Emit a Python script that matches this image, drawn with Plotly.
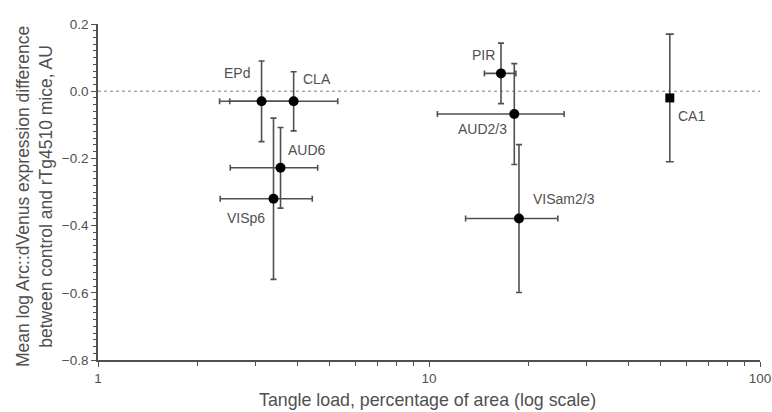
import math
import plotly.graph_objects as go

regions = ["EPd", "CLA", "AUD6", "VISp6", "PIR", "AUD2/3", "VISam2/3"]
tangle = [3.12, 3.90, 3.56, 3.39, 16.5, 18.1, 18.7]
tangle_err = [0.79, 1.40, 1.05, 1.05, 1.8, 7.5, 5.8]
arc_diff = [-0.03, -0.03, -0.228, -0.32, 0.053, -0.068, -0.379]
arc_err = [0.12, 0.088, 0.12, 0.24, 0.09, 0.15, 0.22]

ca1_region = ["CA1"]
ca1_tangle = [53.4]
ca1_diff = [-0.02]
ca1_err = [0.19]

label_shift = {
    "EPd": (-25, 28), "CLA": (23, 22), "AUD6": (26, 18), "VISp6": (-28, -19),
    "PIR": (-17, 18), "AUD2/3": (-32, -15), "VISam2/3": (45, 20), "CA1": (22, -18),
}

GREY = "#505050"
FONT = "Liberation Sans, Arial"
fig = go.Figure()
fig.add_shape(type="line", xref="paper", x0=0, x1=1, yref="y", y0=0, y1=0,
              line=dict(color="#808080", width=1, dash="dot"), layer="below")
fig.add_trace(go.Scatter(
    x=tangle, y=arc_diff, mode="markers",
    marker=dict(color="black", size=10, symbol="circle"),
    error_x=dict(type="data", array=tangle_err, color=GREY, thickness=1.6, width=3),
    error_y=dict(type="data", array=arc_err, color=GREY, thickness=1.6, width=3),
    showlegend=False,
))
fig.add_trace(go.Scatter(
    x=ca1_tangle, y=ca1_diff, mode="markers",
    marker=dict(color="black", size=9, symbol="square"),
    error_y=dict(type="data", array=ca1_err, color=GREY, thickness=1.6, width=4),
    showlegend=False,
))

for name, xv, yv in zip(regions + ca1_region, tangle + ca1_tangle, arc_diff + ca1_diff):
    dx, dy = label_shift[name]
    fig.add_annotation(x=math.log10(xv), y=yv, text=name, showarrow=False,
                       xshift=dx, yshift=dy,
                       font=dict(family=FONT, size=14, color=GREY))

fig.add_annotation(xref="paper", yref="paper", x=-0.0967, y=0.488,
                   text="Mean log Arc::dVenus expression difference<br>between control and rTg4510 mice, AU",
                   textangle=-90, showarrow=False, xanchor="center", yanchor="middle",
                   font=dict(family=FONT, size=17.5, color=GREY))
fig.add_annotation(xref="paper", yref="paper", x=0.497, y=-0.1176,
                   text="Tangle load, percentage of area (log scale)",
                   showarrow=False, xanchor="center", yanchor="middle",
                   font=dict(family=FONT, size=17.8, color=GREY))

fig.update_layout(
    width=772, height=412,
    margin=dict(l=98, r=12, t=24, b=52),
    paper_bgcolor="white", plot_bgcolor="white",
    font=dict(family=FONT, color=GREY, size=13),
)
fig.update_xaxes(
    type="log", range=[0, 2], tickvals=[1, 10, 100], ticktext=["1", "10", "100"],
    ticks="outside", ticklen=5, tickwidth=1.3, tickcolor=GREY,
    showline=True, linecolor=GREY, linewidth=1.6, showgrid=False, zeroline=False,
    minor=dict(ticks="outside", ticklen=4, tickcolor=GREY, tickwidth=1.2, dtick="D1", showgrid=False),
    automargin=False, tickfont=dict(size=13.5),
)
fig.update_yaxes(
    range=[-0.8, 0.2], dtick=0.2, tick0=0, tickformat=".1f",
    ticks="outside", ticklen=5, tickwidth=1.3, tickcolor=GREY,
    showline=True, linecolor=GREY, linewidth=1.6, showgrid=False, zeroline=False,
    minor=dict(ticks="outside", ticklen=3, tickcolor=GREY, tickwidth=1.2, dtick=0.02, showgrid=False),
    automargin=False, tickfont=dict(size=13.5),
)

fig.write_html("out.html", config={"displayModeBar": False})
with open("out.html", "r", encoding="utf-8") as f:
    html = f.read()
html = html.replace("<head>", "<head><style>html,body{margin:0;padding:0;overflow:hidden;}</style>", 1)
with open("out.html", "w", encoding="utf-8") as f:
    f.write(html)
